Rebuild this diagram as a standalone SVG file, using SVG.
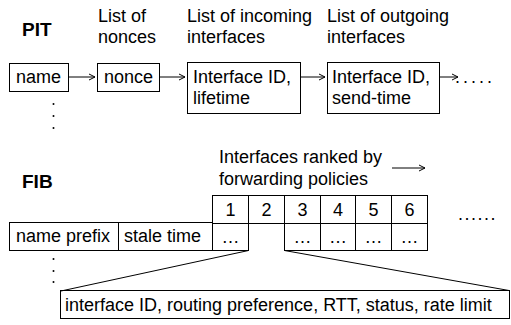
<svg xmlns="http://www.w3.org/2000/svg" width="511" height="325" viewBox="0 0 511 325">
<defs>
<style>
text{font-family:"Liberation Sans",Arial,sans-serif;font-size:18px;fill:#000}
.b{font-weight:bold;font-size:19px}
.c{text-anchor:middle}
rect,.ln{fill:#fff;stroke:#000;stroke-width:1}
.ln{fill:none}
.ar{fill:none;stroke:#000;stroke-width:1}
</style>
<marker id="ah" markerWidth="8" markerHeight="8" refX="7" refY="4" orient="auto" markerUnits="userSpaceOnUse">
<path d="M1,1 L7,4 L1,7" fill="none" stroke="#000" stroke-width="1"/>
</marker>
</defs>
<rect x="0" y="0" width="511" height="325" style="fill:#fff;stroke:none"/>
<g id="labels">
<text class="b" x="22" y="36">PIT</text>
<text x="98" y="22">List of</text>
<text x="98" y="43">nonces</text>
<text x="187" y="22">List of incoming</text>
<text x="187" y="43">interfaces</text>
<text x="327" y="22">List of outgoing</text>
<text x="327" y="43">interfaces</text>
<text class="b" x="22" y="188">FIB</text>
<text x="219" y="163">Interfaces ranked by</text>
<text x="219" y="185">forwarding policies</text>
</g>
<g id="pit-name"><rect x="9.5" y="63.5" width="59" height="28"/><text x="16" y="83">name</text></g>
<g id="pit-nonce"><rect x="97.5" y="63.5" width="62" height="28"/><text x="104" y="83">nonce</text></g>
<g id="pit-in"><rect x="187.5" y="62.5" width="113" height="51"/><text x="193" y="83">Interface ID,</text><text x="193" y="104">lifetime</text></g>
<g id="pit-out"><rect x="327.5" y="62.5" width="112" height="51"/><text x="332" y="83">Interface ID,</text><text x="332" y="104">send-time</text></g>
<g id="pit-more"><text x="455" y="83" letter-spacing="3">.....</text></g>
<g id="pit-dots"><circle cx="53.5" cy="104" r="1"/><circle cx="53.5" cy="116" r="1"/><circle cx="53.5" cy="128" r="1"/></g>
<g id="fib-table">
<rect x="9.5" y="222.5" width="109" height="28"/><text x="16" y="242">name prefix</text>
<rect x="118.5" y="222.5" width="94" height="28"/><text x="124" y="242">stale time</text>
<rect x="212.5" y="195.5" width="36" height="28"/><text class="c" x="230.5" y="216">1</text>
<rect x="248.5" y="195.5" width="36" height="28"/><text class="c" x="266.5" y="216">2</text>
<rect x="284.5" y="195.5" width="36" height="28"/><text class="c" x="302.5" y="216">3</text>
<rect x="320.5" y="195.5" width="35" height="28"/><text class="c" x="338" y="216">4</text>
<rect x="355.5" y="195.5" width="36" height="28"/><text class="c" x="373.5" y="216">5</text>
<rect x="391.5" y="195.5" width="36" height="28"/><text class="c" x="409.5" y="216">6</text>
<rect x="212.5" y="223.5" width="36" height="27"/><text class="c" x="230.5" y="243">…</text>
<rect x="284.5" y="223.5" width="36" height="27"/><text class="c" x="302.5" y="243">…</text>
<rect x="320.5" y="223.5" width="35" height="27"/><text class="c" x="338" y="243">…</text>
<rect x="355.5" y="223.5" width="36" height="27"/><text class="c" x="373.5" y="243">…</text>
<rect x="391.5" y="223.5" width="36" height="27"/><text class="c" x="409.5" y="243">…</text>
<text x="458" y="220" letter-spacing="1.5">......</text>
</g>
<g id="fib-dots"><circle cx="53.5" cy="259" r="1"/><circle cx="53.5" cy="271" r="1"/><circle cx="53.5" cy="282" r="1"/></g>
<g id="fib-detail"><rect x="60.5" y="290.5" width="449" height="28"/><text x="65" y="311">interface ID, routing preference, RTT, status, rate limit</text></g>
<g id="connectors">
<line class="ar" x1="68.5" y1="77" x2="95" y2="77" marker-end="url(#ah)"/>
<line class="ar" x1="159.5" y1="77" x2="185" y2="77" marker-end="url(#ah)"/>
<line class="ar" x1="300.5" y1="77" x2="325" y2="77" marker-end="url(#ah)"/>
<line class="ar" x1="439.5" y1="77" x2="458" y2="77" marker-end="url(#ah)"/>
<line class="ar" x1="392" y1="168" x2="425" y2="168" marker-end="url(#ah)"/>
<line class="ln" x1="248.5" y1="250.5" x2="61" y2="291"/>
<line class="ln" x1="284.5" y1="250.5" x2="509" y2="290.5"/>
</g>
</svg>
